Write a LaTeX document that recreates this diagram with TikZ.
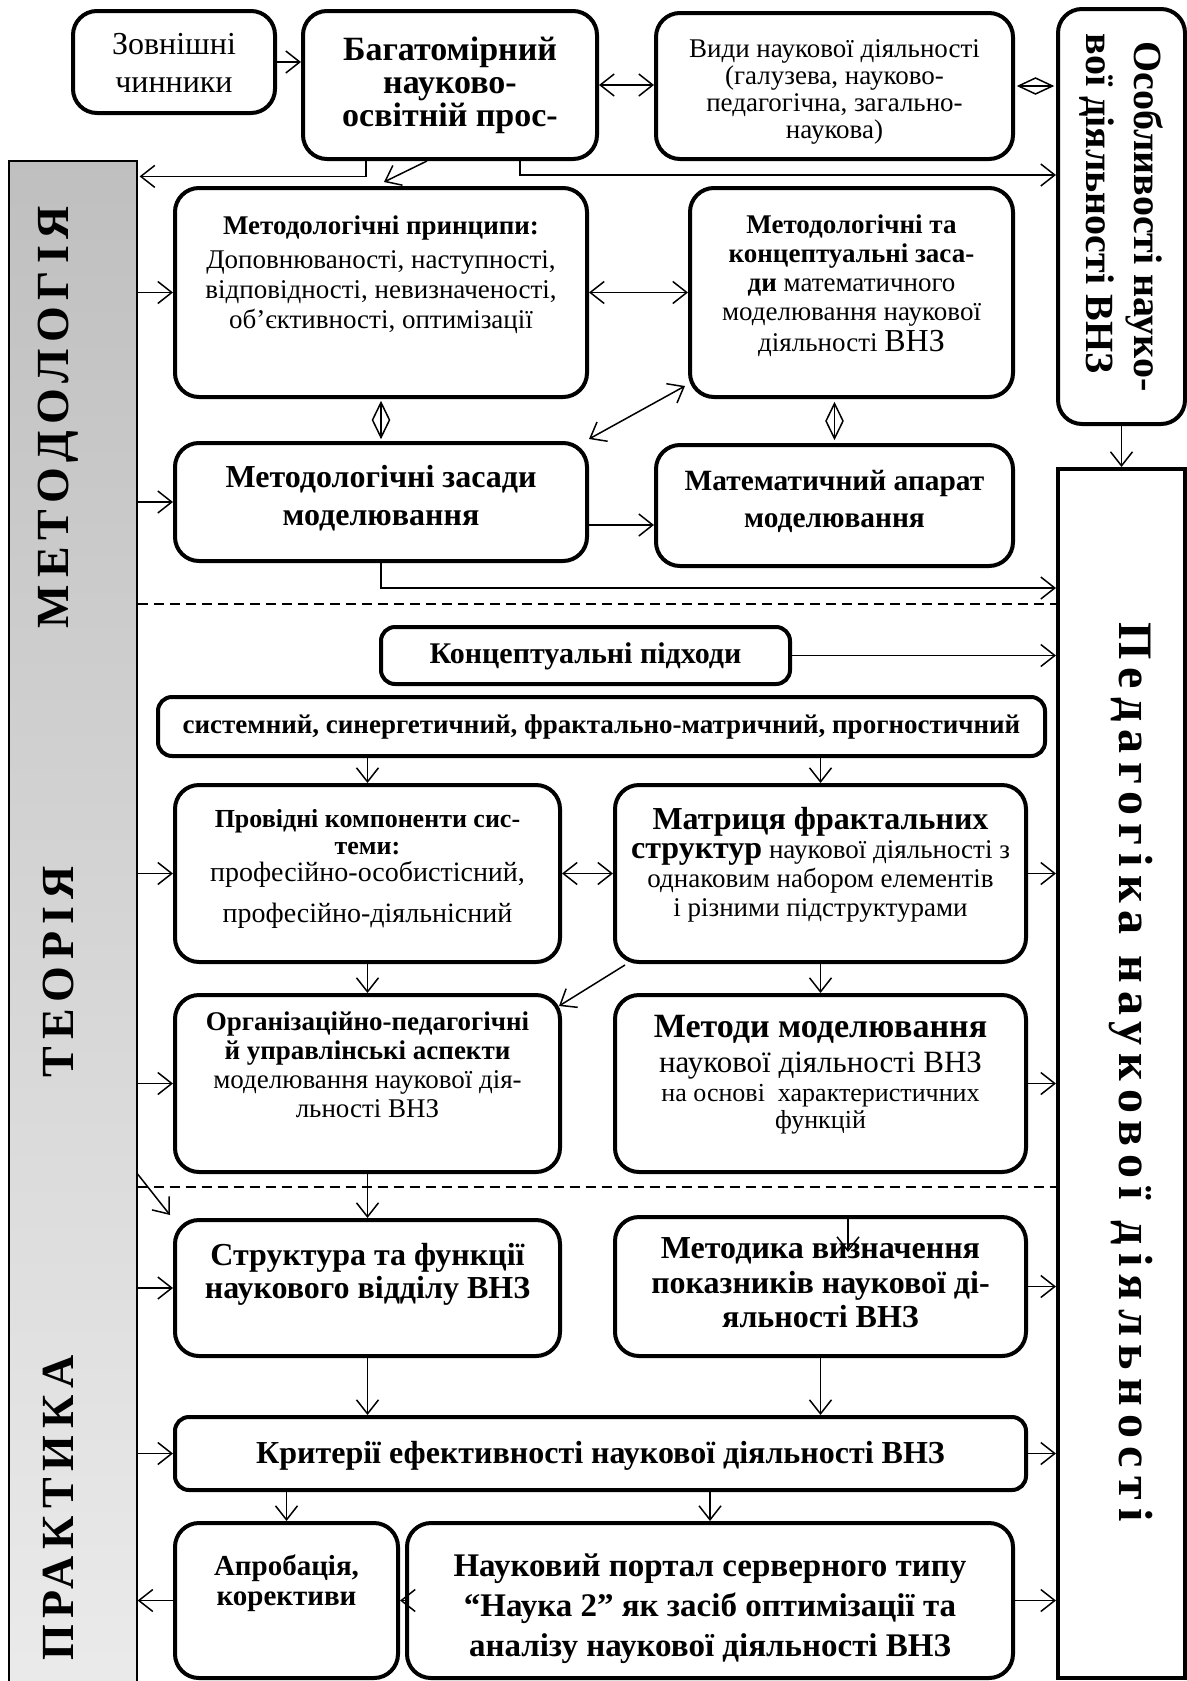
\documentclass[tikz,border=0pt]{standalone}
\usepackage{fontspec}
\setmainfont{Liberation Serif}
\usetikzlibrary{arrows.meta,calc}
\newdimen\pxu \pxu=0.5pt
\newcommand\bt[4]{\parbox[c][#2\pxu][t]{#1\pxu}{\centering\vspace*{#3\pxu}#4\par}}
\newcommand\fs[2]{\fontsize{#1}{#2}\selectfont}
\begin{document}
\begin{tikzpicture}[x=0.5pt,y=-0.5pt,
  box/.style={draw,line width=2pt,rounded corners=12pt,inner sep=0pt,fill=white},
  sbox/.style={box,rounded corners=7pt},
  arr/.style={line width=0.75pt,-{Straight Barb[length=7pt,width=11pt]}},
  biarr/.style={line width=0.75pt,{Straight Barb[length=7pt,width=11pt]}-{Straight Barb[length=7pt,width=11pt]}},
  diam/.style={line width=0.75pt,line join=miter},
  dline/.style={line width=0.6pt,dash pattern=on 5pt off 3pt},
  vlabel/.style={font=\fs{23}{23}\bfseries\addfontfeature{LetterSpace=15}},
]
\useasboundingbox (0,0) rectangle (1187,1681);
\fill[white] (0,0) rectangle (1187,1681);

% side bars
\node[draw,line width=0.6pt,top color=gray!50,bottom color=gray!16,minimum width=128\pxu,minimum height=1529\pxu,inner sep=0pt] (gray) at (73,925.5) {};
\node[vlabel,rotate=90] (lmet) at (58,417) {МЕТОДОЛОГІЯ};
\node[vlabel,rotate=90] (lteo) at (58,972) {ТЕОРІЯ};
\node[vlabel,rotate=90] (lpra) at (58,1508) {ПРАКТИКА};

\node[draw,line width=2pt,minimum width=127\pxu,minimum height=1209\pxu,inner sep=0pt,fill=white] (ped) at (1121.5,1073.5) {};
\node[rotate=-90,font=\fs{24}{24}\bfseries\addfontfeature{LetterSpace=17.5}] (ptxt) at (1131,1072) {Педагогіка наукової діяльності};

\node[box] (osob) at (1121.5,216.5) {\rotatebox{-90}{\parbox[c][127\pxu][c]{415\pxu}{\centering\fs{20}{24}\bfseries Особливості науко-\hspace*{26\pxu}\\вої діяльності ВНЗ\hspace*{26\pxu}\par}}};

% top row
\node[box] (zovn) at (174,62) {\bt{202}{102}{22}{\fs{16}{19}Зовнішні\\чинники}};
\node[box] (bagat) at (450,85) {\bt{294}{148}{26}{\fs{17}{16.5}\bfseries Багатомірний\\науково-\\освітній прос-}};
\node[box] (vydy) at (834.5,86) {\bt{357}{146}{27}{\fs{13.5}{13.5}Види наукової діяльності\\(галузева, науково-\\педагогічна, загально-\\наукова)}};

% methodology
\node[box] (princ) at (381,292.5) {\bt{412}{209}{28}{\fs{13.5}{15}\textbf{Методологічні принципи:}\\[2pt]Доповнюваності, наступності,\\відповідності, невизначеності,\\об’єктивності, оптимізації}};
\node[box] (konc) at (851.5,292.5) {\bt{323}{209}{27}{\fs{13.5}{14.5}\textbf{Методологічні та}\\\textbf{концептуальні заса-}\\\textbf{ди} математичного\\моделювання наукової\\[1pt]діяльності {\fs{16}{14.5}ВНЗ}}};
\node[box] (zasady) at (381,502) {\bt{412}{118}{22}{\fs{16}{19}\bfseries Методологічні засади\\моделювання}};
\node[box] (mat) at (834.5,505.5) {\bt{357}{121}{25}{\fs{14.7}{18.5}\bfseries Математичний апарат\\моделювання}};

% theory
\node[sbox] (kpid) at (585.5,655.5) {\bt{409}{57}{16}{\fs{15}{15}\bfseries Концептуальні підходи}};
\node[sbox] (syst) at (601.5,726.5) {\bt{887}{59}{18}{\fs{13.5}{13.5}\bfseries системний, синергетичний, фрактально-матричний, прогностичний}};
\node[box] (prov) at (367.5,873.5) {\bt{385}{177}{24}{\fs{13}{13.5}\textbf{Провідні компоненти сис-}\\\textbf{теми:}\\{\fs{14}{13.5}професійно-особистісний,}\\[7pt]{\fs{14}{13.5}професійно-діяльнісний}}};
\node[box] (matr) at (820.5,873.5) {\bt{411}{177}{22}{\fs{13.5}{14.5}{\fs{16}{14.5}\bfseries Матриця фрактальних}\\{\fs{16}{14.5}\bfseries структур} наукової діяльності з\\однаковим набором елементів\\і різними підструктурами}};
\node[box] (org) at (367.5,1083.5) {\bt{385}{177}{17}{\fs{13.5}{14.5}\textbf{Організаційно-педагогічні}\\\textbf{й управлінські аспекти}\\моделювання наукової дія-\\льності ВНЗ}};
\node[box] (metody) at (820.5,1083.5) {\bt{411}{177}{20}{\fs{13}{13.5}{\fs{17}{13.5}\bfseries Методи моделювання}\\[4pt]{\fs{15.5}{13.5}наукової діяльності ВНЗ}\\[1pt]на основі\ \ характеристичних\\функцій}};

% practice
\node[box] (strukt) at (367.5,1288) {\bt{385}{136}{23}{\fs{16}{16.5}\bfseries Структура та функції\\наукового відділу ВНЗ}};
\node[box] (metodyka) at (820.5,1286.5) {\bt{411}{139}{21}{\fs{16}{17.2}\bfseries Методика визначення\\показників наукової ді-\\яльності ВНЗ}};
\node[sbox] (kryt) at (600.5,1453.5) {\bt{851}{73}{24}{\fs{16}{16}\bfseries Критерії ефективності наукової діяльності ВНЗ}};
\node[box] (aprob) at (286.5,1600.5) {\bt{223}{155}{32}{\fs{14.5}{15}\bfseries Апробація,\\корективи}};
\node[box] (portal) at (710,1600.5) {\bt{606}{155}{31}{\fs{16.5}{20}\bfseries Науковий портал серверного типу\\“Наука 2” як засіб оптимізації та\\аналізу наукової діяльності ВНЗ}};

% dashed separators
\coordinate (d1) at (137,604);
\coordinate (d2) at (137,1187);
\draw[dline] (d1 -| gray.east) -- (d1 -| ped.west);
\draw[dline] (d2 -| gray.east) -- (d2 -| ped.west);

% connectors top
\draw[arr] (zovn.east) -- (zovn.east -| bagat.west);
\draw[biarr] (bagat.east) -- (bagat.east -| vydy.west);
\coordinate (dm1) at ($(vydy.east)!0.5!(vydy.east -| osob.west)$);
\draw[diam] (dm1) +(-17,0) -- +(0,-8) -- +(17,0) -- +(0,8) -- cycle;
\draw[diam] (dm1) +(-17,0) -- +(17,0);
\draw[arr] ($(bagat.south west)+(65,0)$) |- ($(gray.north east)+(2,16)$);
\draw[arr] ($(bagat.south west)+(126,0)$) -- ($(princ.north west)+(211,-4)$);
\draw[arr] ($(bagat.south west)+(219,0)$) |- ($(osob.north west)+(0,168)$);

% methodology
\draw[arr] (gray.east |- princ.west) -- (princ.west);
\draw[biarr] (princ.east) -- (konc.west);
\coordinate (dm2) at ($(princ.south)!0.5!(zasady.north)$);
\draw[diam] (dm2) +(0,-17.5) -- +(8.5,0) -- +(0,17.5) -- +(-8.5,0) -- cycle;
\draw[diam] (dm2) +(0,-17.5) -- +(0,17.5);
\coordinate (dm3) at ($(mat.north |- konc.south)!0.5!(mat.north)$);
\draw[diam] (dm3) +(0,-17.5) -- +(8.5,0) -- +(0,17.5) -- +(-8.5,0) -- cycle;
\draw[diam] (dm3) +(0,-17.5) -- +(0,17.5);
\draw[arr] (gray.east |- zasady.west) -- (zasady.west);
\draw[biarr] ($(zasady.north east)+(0,-2)$) -- ($(konc.south west)+(-3,-13)$);
\coordinate (zm) at ($(zasady.east)+(0,23)$);
\draw[arr] (zm) -- (zm -| mat.west);
\draw[arr] (zasady.south) |- ($(ped.north west)+(0,121)$);
\draw[arr] (osob.south) -- (ped.north);

% theory
\draw[arr] (kpid.east) -- (kpid.east -| ped.west);
\draw[arr] (prov.north |- syst.south) -- (prov.north);
\draw[arr] (matr.north |- syst.south) -- (matr.north);
\draw[arr] (gray.east |- prov.west) -- (prov.west);
\draw[biarr] (prov.east) -- (matr.west);
\draw[arr] (matr.east) -- (matr.east -| ped.west);
\draw[arr] (prov.south) -- (org.north);
\draw[arr] (matr.south) -- (metody.north);
\draw[arr] ($(matr.south west)+(12,1)$) -- ($(org.north east)+(-3,13)$);
\draw[arr] (gray.east |- org.west) -- (org.west);
\draw[arr] (metody.east) -- (metody.east -| ped.west);

% practice
\draw[arr] (org.south) -- (strukt.north);
\draw[arr] (gray.east |- org.south) -- ($(strukt.north west)+(-3,-3)$);
\coordinate (mend) at ($(metodyka.north west)+(235,37)$);
\draw[arr] ($(metodyka.north west)+(235,0)$) -- (mend);
\draw[arr] (gray.east |- strukt.west) -- (strukt.west);
\draw[arr] (metodyka.east) -- (metodyka.east -| ped.west);
\draw[arr] (strukt.south) -- (strukt.south |- kryt.north);
\draw[arr] (metodyka.south) -- (metodyka.south |- kryt.north);
\draw[arr] (gray.east |- kryt.west) -- (kryt.west);
\draw[arr] (kryt.east) -- (kryt.east -| ped.west);
\draw[arr] (aprob.north |- kryt.south) -- (aprob.north);
\draw[arr] (portal.north |- kryt.south) -- (portal.north);
\draw[arr] (portal.west) -- (aprob.east);
\draw[arr] (aprob.west) -- (aprob.west -| gray.east);
\draw[arr] (portal.east) -- (portal.east -| ped.west);
\end{tikzpicture}
\end{document}
